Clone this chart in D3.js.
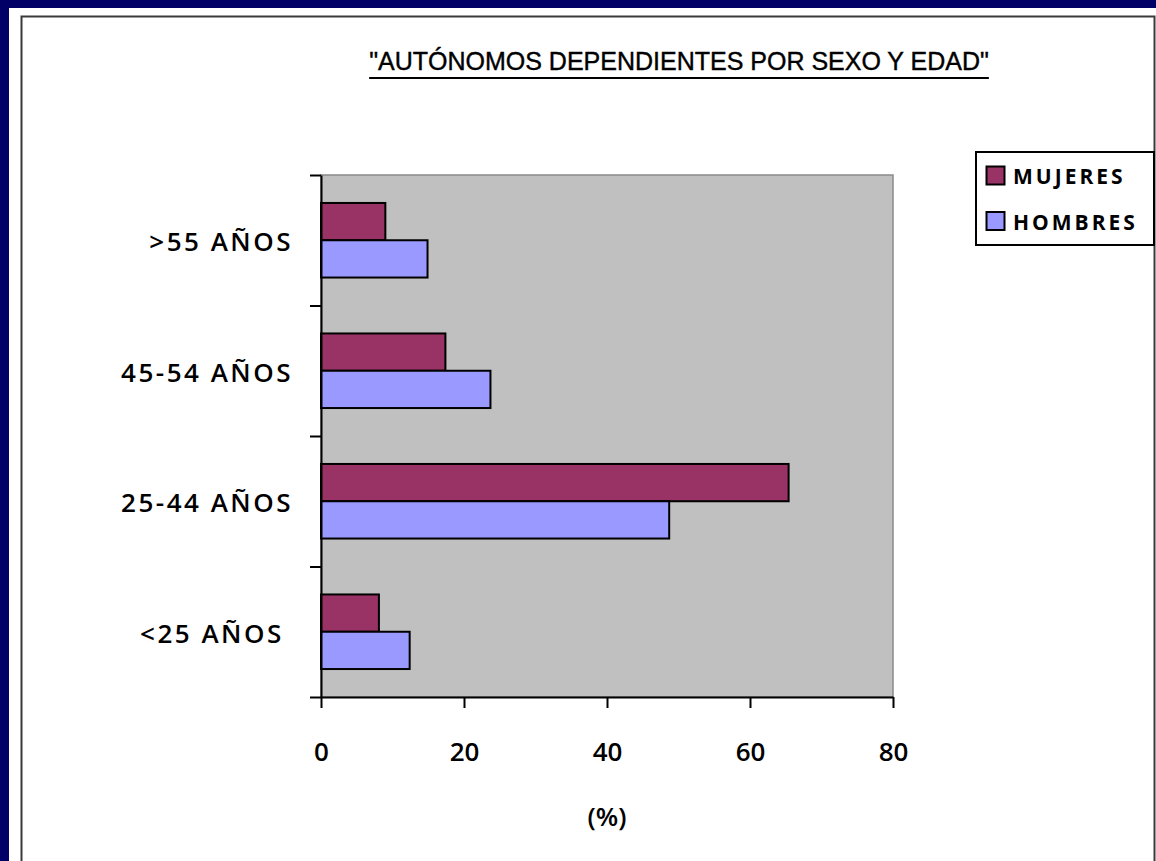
<!DOCTYPE html>
<html>
<head>
<meta charset="utf-8">
<script src="https://cdn.jsdelivr.net/npm/d3@7"></script>
<style>
  html,body{margin:0;padding:0;background:#000066;}
  svg{display:block;}
  .lbl{font-family:'Comic Sans MS','Open Sans',sans-serif;font-weight:600;fill:#000;}
</style>
</head>
<body>
<svg id="chart" width="1156" height="861"></svg>
<script>
// data
const categories = [">55 AÑOS", "45-54 AÑOS", "25-44 AÑOS", "<25 AÑOS "];
const seriesNames = ["MUJERES", "HOMBRES"];
const mujeres = [9.0, 17.4, 65.4, 8.1];
const hombres = [14.9, 23.7, 48.7, 12.4];
const xTicks = [0, 20, 40, 60, 80];
const colors = ["#993366", "#9999FF"];

const W = 1156, H = 861;
const plot = {left: 321, right: 893, top: 175, bottom: 697};

const svg = d3.select('#chart');

// navy page + white slide
svg.append('rect').attr('width', W).attr('height', H).attr('fill', '#000066');
svg.append('rect').attr('x', 9).attr('y', 8).attr('width', W - 9).attr('height', H - 8).attr('fill', '#fff');
// chart frame (cut off at right/bottom)
svg.append('rect').attr('x', 21.5).attr('y', 16.5).attr('width', 1133).attr('height', 900)
  .attr('fill', 'none').attr('stroke', '#3a3a3a').attr('stroke-width', 2);

// title
const title = svg.append('text').attr('x', 679).attr('y', 70).attr('text-anchor', 'middle')
  .style('font-family', "'Liberation Sans', Arial, sans-serif").style('font-size', '25px')
  .style('stroke', '#000').style('stroke-width', 0.4)
  .attr('fill', '#000').text('"AUTÓNOMOS DEPENDIENTES POR SEXO Y EDAD"');
const tb = title.node().getBBox();
svg.append('line').attr('x1', tb.x).attr('x2', tb.x + tb.width).attr('y1', 78).attr('y2', 78)
  .attr('stroke', '#000').attr('stroke-width', 2);

// scales
const x = d3.scaleLinear().domain([0, 80]).range([plot.left, plot.right]);
const y = d3.scaleBand().domain(categories).range([plot.top, plot.bottom]).padding(0);
const ySub = d3.scaleBand().domain(seriesNames).range([0, y.bandwidth()]).paddingInner(0).paddingOuter(0.75);

// plot area
svg.append('rect').attr('x', plot.left).attr('y', plot.top)
  .attr('width', plot.right - plot.left).attr('height', plot.bottom - plot.top)
  .attr('fill', '#C0C0C0').attr('stroke', '#8a8a8a').attr('stroke-width', 1.5);

// bars
const rows = categories.map((c, i) => ({cat: c, vals: [mujeres[i], hombres[i]]}));
const g = svg.append('g');
rows.forEach(r => {
  g.selectAll(null).data(r.vals.map((v, j) => ({s: seriesNames[j], v, c: colors[j]})))
    .join('rect')
    .attr('x', x(0))
    .attr('y', d => y(r.cat) + ySub(d.s))
    .attr('width', d => x(d.v) - x(0))
    .attr('height', ySub.bandwidth())
    .attr('fill', d => d.c)
    .attr('stroke', '#000').attr('stroke-width', 2);
});

// y axis: ticks at category boundaries
const yEdge = d3.scaleLinear().domain([0, categories.length]).range([plot.top, plot.bottom]);
const yAx = svg.append('g').attr('transform', `translate(${plot.left},0)`)
  .call(d3.axisLeft(yEdge).ticks(categories.length).tickSize(11).tickSizeOuter(0).tickFormat(''));
yAx.select('.domain').attr('stroke-width', 2);
yAx.selectAll('.tick line').attr('stroke-width', 2);

svg.append('g').selectAll('text').data(categories).join('text')
  .attr('class', 'lbl')
  .attr('x', 293).attr('y', d => y(d) + y.bandwidth() / 2 + 2)
  .attr('text-anchor', 'end').attr('dy', '0.35em')
  .style('font-size', '26px').style('letter-spacing', '2.5px').style('white-space', 'pre')
  .attr('xml:space', 'preserve')
  .text(d => d);

// x axis
const xAx = svg.append('g').attr('transform', `translate(0,${plot.bottom})`)
  .call(d3.axisBottom(x).tickValues(xTicks).tickSize(11).tickSizeOuter(0));
xAx.select('.domain').attr('stroke-width', 2);
xAx.selectAll('.tick line').attr('stroke-width', 2);
xAx.selectAll('.tick text').attr('class', 'lbl').attr('y', 55).attr('dy', '0.35em')
  .style('font-size', '26px').attr('fill', '#000');

svg.append('text').attr('class', 'lbl').attr('x', x(40)).attr('y', 817).attr('dy', '0.35em')
  .attr('text-anchor', 'middle').style('font-size', '26px').text('(%)');

// legend
const lg = svg.append('g');
lg.append('rect').attr('x', 976).attr('y', 152).attr('width', 178).attr('height', 93)
  .attr('fill', '#fff').attr('stroke', '#000').attr('stroke-width', 2);
seriesNames.forEach((s, i) => {
  lg.append('rect').attr('x', 986.5).attr('y', 166.5 + i * 45.5).attr('width', 18).attr('height', 18)
    .attr('fill', colors[i]).attr('stroke', '#000').attr('stroke-width', 2);
  lg.append('text').attr('class', 'lbl').attr('x', 1013).attr('y', 184 + i * 45.5)
    .style('font-size', '21px').style('font-weight', 700).style('letter-spacing', '3px').text(s);
});
</script>
</body>
</html>
